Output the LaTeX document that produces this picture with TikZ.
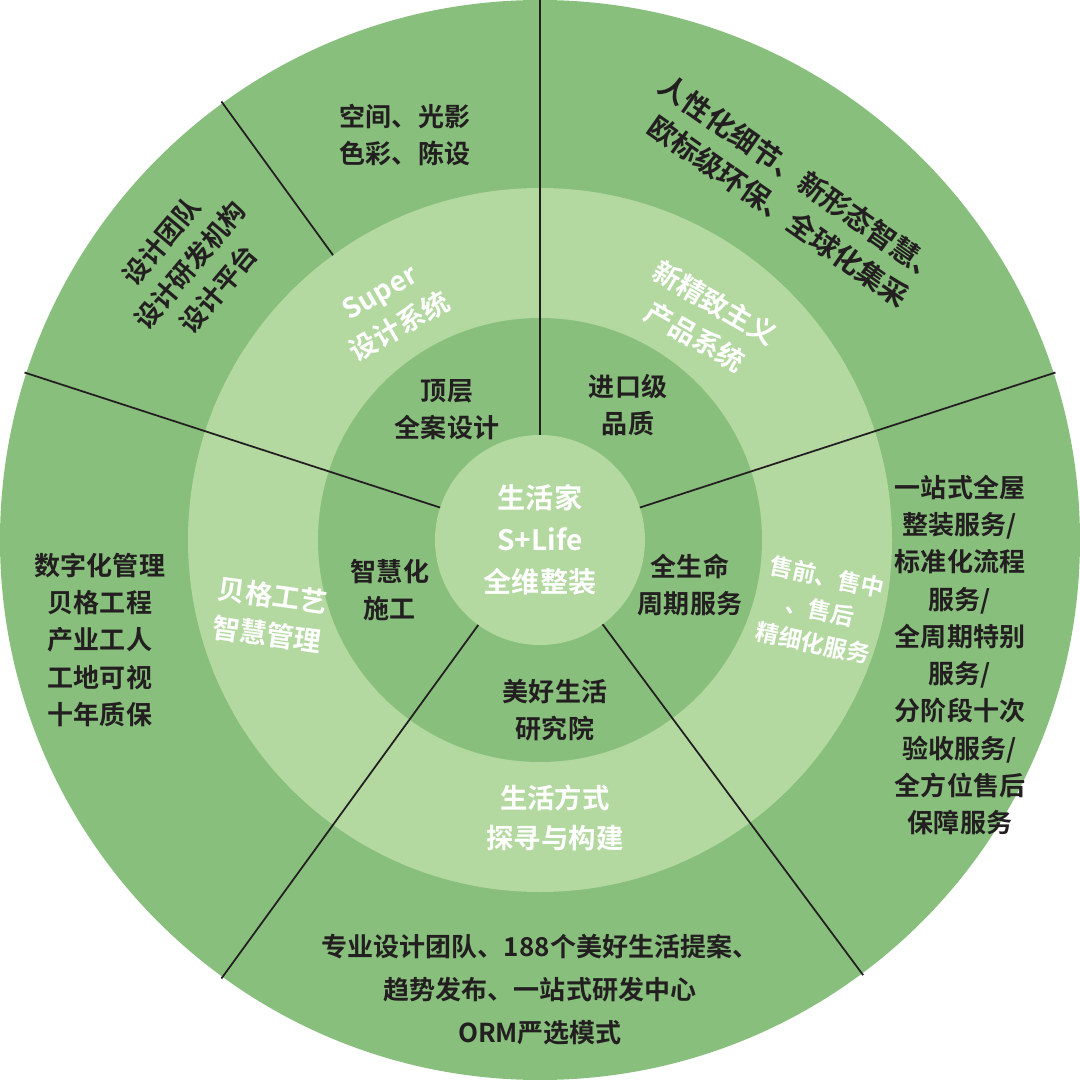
\documentclass[tikz,border=0pt]{standalone}
\usepackage{fontspec}
\newfontfamily\cjk{Noto Sans CJK SC}[BoldFont={* Bold}]
\usetikzlibrary{positioning}
\definecolor{ringdark}{HTML}{88BF7D}
\definecolor{ringlight}{HTML}{B3D9A1}
\definecolor{txtdark}{HTML}{231F20}
\tikzset{
  dtext/.style={text=txtdark, align=center, font=\cjk\bfseries\fontsize{7.4}{10.6}\selectfont},
  wtext/.style={text=white, align=center, font=\cjk\bfseries\fontsize{7.8}{11.2}\selectfont},
  spoke/.style={txtdark, line width=0.5pt}
}
\begin{document}
\begin{tikzpicture}
  \useasboundingbox (-5.4,-5.4) rectangle (5.4,5.4);
  % ringe
  \fill[ringdark] (0,0) circle (5.4);
  \fill[ringlight] (0,0) circle (3.52);
  \fill[ringdark] (0,0) circle (2.22);
  \fill[ringlight] (0,0) circle (1.05);

  % speichen
  \foreach \a in {90,162,18,234,-53.4}
    \draw[spoke] (\a:1.05) -- (\a:5.42);
  \draw[spoke] (126:3.52) -- (126:5.42);

  % aussenring
  \node[dtext, rotate=0] (raum) at (-1.35,4.05) {空间、光影\\色彩、陈设};
  \node[dtext, rotate=50] (team) at (-3.5,2.75) {设计团队\\设计研发机构\\设计平台};
  \node[dtext, rotate=-35, font=\cjk\bfseries\fontsize{8}{11.2}\selectfont] (detail) at (2.5,3.45) {人性化细节、新形态智慧、\\欧标级环保、全球化集采};
  \node[dtext] (manage) at (-4.4,-1.0) {数字化管理\\贝格工程\\产业工人\\工地可视\\十年质保};
  \node[dtext] (service) at (4.2,-1.15) {一站式全屋\\整装服务/\\标准化流程\\服务/\\全周期特别\\服务/\\分阶段十次\\验收服务/\\全方位售后\\保障服务};
  \node[dtext, font=\cjk\bfseries\fontsize{7.4}{12.2}\selectfont] (ormt) at (0,-4.5) {专业设计团队、188个美好生活提案、\\趋势发布、一站式研发中心\\ORM严选模式};

  % heller ring
  \node[wtext, rotate=30] (super) at (-1.5,2.3) {Super\\设计系统};
  \node[wtext, rotate=-30] (neu) at (1.65,2.2) {新精致主义\\产品系统};
  \node[wtext, rotate=-8] (beige) at (-2.7,-0.75) {贝格工艺\\智慧管理};
  \node[wtext, rotate=-12, font=\cjk\bfseries\fontsize{6.6}{9.6}\selectfont] (vorher) at (2.8,-0.7) {售前、售中\\、售后\\精细化服务};
  \node[wtext] (weise) at (0.15,-2.78) {生活方式\\探寻与构建};

  % innerer ring
  \node[dtext] (top) at (-0.93,1.3) {顶层\\全案设计};
  \node[dtext] (import) at (0.88,1.35) {进口级\\品质};
  \node[dtext] (bau) at (-1.5,-0.5) {智慧化\\施工};
  \node[dtext] (leben) at (1.5,-0.45) {全生命\\周期服务};
  \node[dtext] (inst) at (0.15,-1.7) {美好生活\\研究院};

  % mitte
  \node[wtext, font=\cjk\bfseries\fontsize{8}{12}\selectfont] (core) at (0,0) {生活家\\S+Life\\全维整装};
\end{tikzpicture}
\end{document}
